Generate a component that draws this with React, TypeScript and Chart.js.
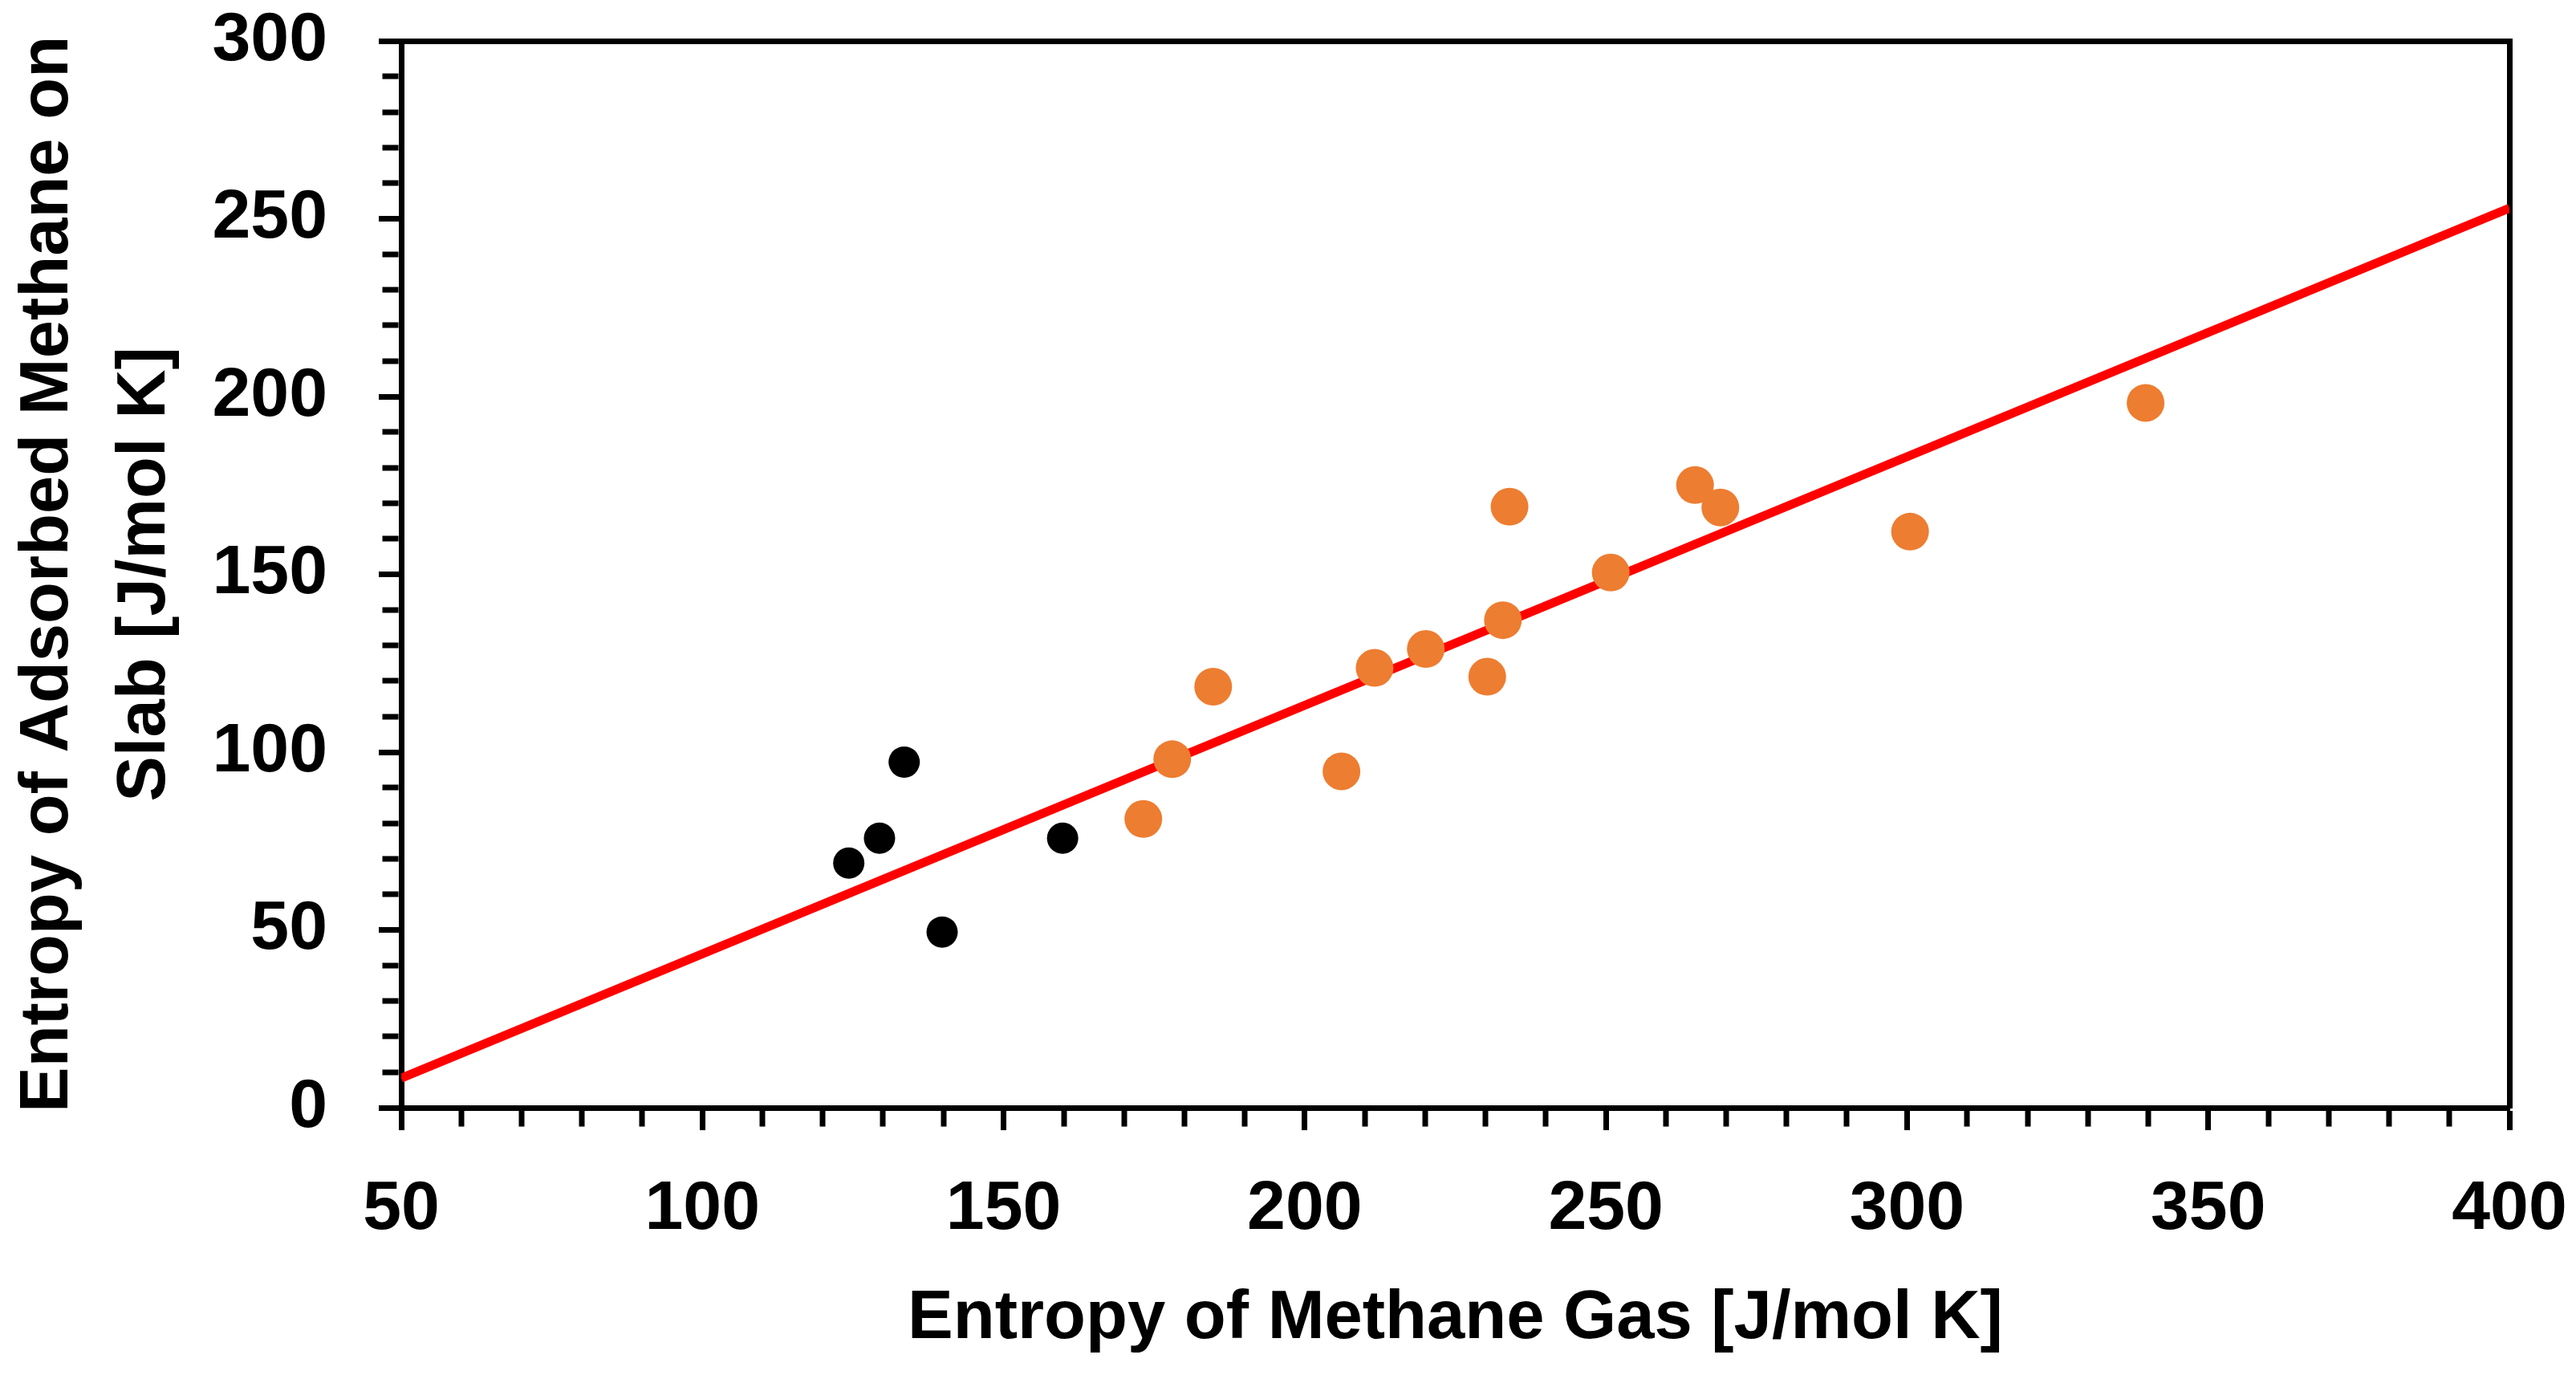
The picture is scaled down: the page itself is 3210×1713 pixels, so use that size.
import { useEffect, useRef } from "react";
import { Chart, registerables } from "chart.js";

Chart.register(...registerables);

// data
const smallX = [124.3, 129.4, 133.5, 139.8, 159.8];
const smallY = [68.8, 75.8, 97.2, 49.4, 75.8];

const largeX = [173.2, 178.0, 184.8, 206.1, 211.6, 220.1, 230.3, 232.9, 234.0, 250.8, 264.8, 269.0, 300.5, 339.6];
const largeY = [81.2, 98.0, 118.4, 94.6, 123.7, 129.0, 121.2, 137.1, 169.0, 150.5, 175.1, 168.8, 162.0, 198.2];

const fitX = [50, 400];
const fitY = [8.3, 253.0];

const xTitle = "Entropy of Methane Gas [J/mol K]";
const yTitle = ["Entropy of Adsorbed Methane on", "Slab [J/mol K]"];

const X_MIN = 50;
const X_MAX = 400;
const Y_MIN = 0;
const Y_MAX = 300;
const MINOR_STEP = 10;
const MAJOR_STEP = 50;

const AXIS_W = 7;
const MAJOR_LEN = 28;
const MINOR_LEN = 20;
const FONT = "'Liberation Sans', Arial, sans-serif";

const toPoints = (xs: number[], ys: number[]) => xs.map((x, i) => ({ x, y: ys[i] }));

const isMajor = (v: number) => Math.round(v) % MAJOR_STEP === 0;

// short tick marks for the minor steps (the axis itself draws the long ones)
const minorTicks = {
  id: "minorTicks",
  afterDraw(chart: any) {
    const { ctx } = chart;
    const xs = chart.scales.x;
    const ys = chart.scales.y;
    ctx.save();
    ctx.strokeStyle = "#000";
    ctx.lineWidth = AXIS_W;
    ctx.beginPath();
    for (const t of xs.ticks) {
      if (isMajor(t.value)) continue;
      const px = Math.round(xs.getPixelForValue(t.value));
      ctx.moveTo(px, xs.top + AXIS_W / 2);
      ctx.lineTo(px, xs.top + AXIS_W / 2 + MINOR_LEN);
    }
    for (const t of ys.ticks) {
      if (isMajor(t.value)) continue;
      const py = Math.round(ys.getPixelForValue(t.value));
      ctx.moveTo(ys.right - AXIS_W / 2, py);
      ctx.lineTo(ys.right - AXIS_W / 2 - MINOR_LEN, py);
    }
    ctx.stroke();
    ctx.restore();
  },
};

export default function App() {
  const canvasRef = useRef<HTMLCanvasElement>(null);

  useEffect(() => {
    if (!canvasRef.current) return;

    const tickFont = { family: FONT, size: 86, weight: "bold" as const, lineHeight: 1 };
    const titleFont = { family: FONT, size: 85, weight: "bold" as const };
    const majorTickColor = (c: any) => (c.tick && isMajor(c.tick.value) ? "#000" : "rgba(0,0,0,0)");

    const chart = new Chart(canvasRef.current, {
      type: "scatter",
      data: {
        datasets: [
          {
            label: "small",
            data: toPoints(smallX, smallY),
            backgroundColor: "#000000",
            borderWidth: 0,
            pointRadius: 19.5,
            order: 1,
          },
          {
            label: "large",
            data: toPoints(largeX, largeY),
            backgroundColor: "#ED7D31",
            borderWidth: 0,
            pointRadius: 23.5,
            order: 0,
          },
          {
            type: "line",
            label: "fit",
            data: toPoints(fitX, fitY),
            borderColor: "#FF0000",
            borderWidth: 11,
            pointRadius: 0,
            fill: false,
            order: 2,
          },
        ],
      },
      options: {
        animation: false,
        responsive: true,
        maintainAspectRatio: false,
        layout: { padding: { left: 0, top: 51, right: 83, bottom: 18 } },
        plugins: {
          legend: { display: false },
          tooltip: { enabled: false },
        },
        scales: {
          x: {
            type: "linear",
            position: "bottom",
            min: X_MIN,
            max: X_MAX,
            afterFit: (s: any) => {
              s.height = 315;
              s.paddingLeft = 0;
              s.paddingRight = 0;
            },
            grid: {
              drawOnChartArea: false,
              tickLength: MAJOR_LEN,
              tickWidth: AXIS_W,
              tickColor: majorTickColor,
            },
            border: { display: true, color: "#000", width: AXIS_W },
            ticks: {
              stepSize: MINOR_STEP,
              autoSkip: false,
              maxRotation: 0,
              padding: 56,
              color: "#000",
              font: tickFont,
              callback: (v: any) => (isMajor(Number(v)) ? String(Math.round(Number(v))) : ""),
            },
            title: {
              display: true,
              text: xTitle,
              color: "#000",
              font: { ...titleFont, lineHeight: 1.2 },
              padding: 0,
            },
          },
          y: {
            type: "linear",
            position: "left",
            min: Y_MIN,
            max: Y_MAX,
            afterFit: (s: any) => {
              s.width = 500;
              s.paddingTop = 0;
              s.paddingBottom = 0;
            },
            grid: {
              drawOnChartArea: false,
              tickLength: MAJOR_LEN,
              tickWidth: AXIS_W,
              tickColor: majorTickColor,
            },
            border: { display: true, color: "#000", width: AXIS_W },
            ticks: {
              stepSize: MINOR_STEP,
              autoSkip: false,
              padding: 64,
              color: "#000",
              font: tickFont,
              callback: (v: any) => (isMajor(Number(v)) ? String(Math.round(Number(v))) : ""),
            },
            title: {
              display: true,
              text: yTitle,
              color: "#000",
              font: { ...titleFont, lineHeight: 121 / 85 },
              padding: 0,
            },
          },
          xTop: {
            type: "linear",
            position: "top",
            min: X_MIN,
            max: X_MAX,
            afterFit: (s: any) => {
              s.height = 0;
              s.paddingLeft = 0;
              s.paddingRight = 0;
            },
            grid: { display: false, drawTicks: false },
            ticks: { display: false, padding: 0 },
            border: { display: true, color: "#000", width: AXIS_W },
          },
          yRight: {
            type: "linear",
            position: "right",
            min: Y_MIN,
            max: Y_MAX,
            afterFit: (s: any) => {
              s.width = 0;
              s.paddingTop = 0;
              s.paddingBottom = 0;
            },
            grid: { display: false, drawTicks: false },
            ticks: { display: false, padding: 0 },
            border: { display: true, color: "#000", width: AXIS_W },
          },
        },
      },
      plugins: [minorTicks],
    });

    return () => {
      chart.destroy();
    };
  }, []);

  return (
    <div style={{ position: "fixed", left: 0, top: 0, width: 3210, height: 1713, background: "#fff" }}>
      <canvas ref={canvasRef}></canvas>
    </div>
  );
}
